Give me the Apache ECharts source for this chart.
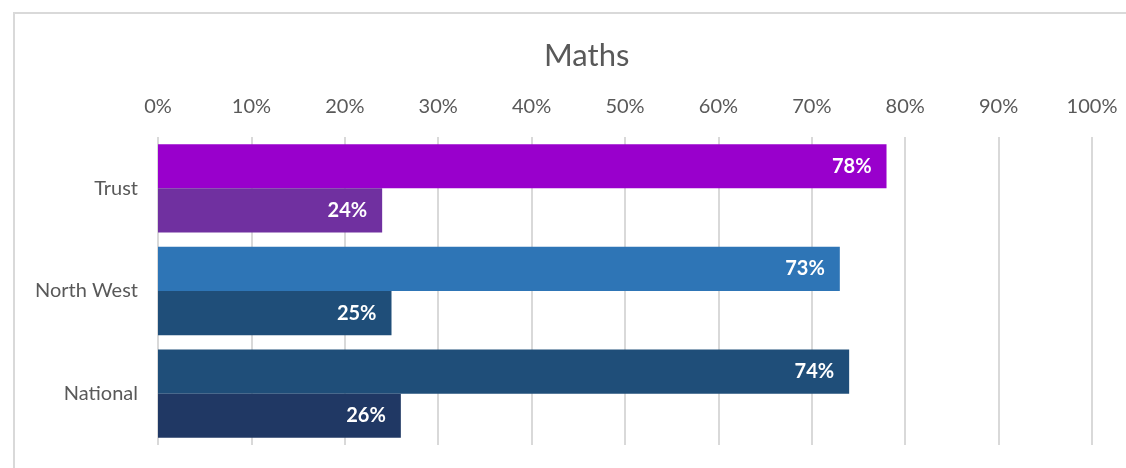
<!DOCTYPE html>
<html>
<head>
<meta charset="utf-8">
<script src="https://cdn.jsdelivr.net/npm/echarts@6/dist/echarts.min.js"></script>
<style>
  html, body { margin: 0; padding: 0; background: #fff; }
  #frame { position: absolute; left: 13px; top: 12px; width: 1113px; height: 456px;
           border-left: 2px solid #d9d9d9; border-top: 2px solid #d9d9d9; box-sizing: border-box; }
  #maths { position: absolute; left: 0; top: 0; width: 1126px; height: 468px; }
</style>
</head>
<body>
<div id="frame"></div>
<div id="maths"></div>
<script>
// Maths - attainment by group
var categories = ['Trust', 'North West', 'National'];
var upperValues = [78, 73, 74];
var lowerValues = [24, 25, 26];
var upperColors = ['#9900cc', '#2e75b6', '#1f4e79'];
var lowerColors = ['#7030a0', '#1f4e79', '#203864'];
var xTicks = [0, 10, 20, 30, 40, 50, 60, 70, 80, 90, 100];

var chart = echarts.init(document.getElementById('maths'), null, { renderer: 'canvas' });

function items(vals, cols) {
    return vals.map(function (v, i) {
        return { value: v, itemStyle: { color: cols[i] } };
    });
}

var labelStyle = {
    show: true,
    position: 'insideRight',
    formatter: '{c}%',
    color: '#fff',
    fontWeight: 'bold',
    fontSize: 20,
    fontFamily: 'Lato',
    distance: 15
};

var option = {
    backgroundColor: 'transparent',
    animation: false,
    title: {
        text: 'Maths',
        left: 539,
        top: 35,
        textStyle: { fontFamily: 'Lato', fontSize: 31, fontWeight: 'normal', color: '#595959' }
    },
    grid: { left: 158, right: 34, top: 137, bottom: 23 },
    xAxis: {
        type: 'value',
        position: 'top',
        min: xTicks[0],
        max: xTicks[xTicks.length - 1],
        interval: 10,
        axisLine: { show: false },
        axisTick: { show: false },
        axisLabel: {
            formatter: '{value}%',
            color: '#595959',
            fontSize: 20,
            fontFamily: 'Lato',
            margin: 20
        },
        splitLine: { lineStyle: { color: '#d9d9d9', width: 2 } }
    },
    yAxis: {
        type: 'category',
        inverse: true,
        data: categories,
        axisLine: { show: false },
        axisTick: { show: false },
        axisLabel: { color: '#595959', fontSize: 20, fontFamily: 'Lato', margin: 20 }
    },
    series: [
        {
            type: 'bar',
            data: items(upperValues, upperColors),
            barGap: '0%',
            barCategoryGap: '14%',
            label: labelStyle
        },
        {
            type: 'bar',
            data: items(lowerValues, lowerColors),
            barGap: '0%',
            barCategoryGap: '14%',
            label: labelStyle
        }
    ]
};

chart.setOption(option);
</script>
</body>
</html>
